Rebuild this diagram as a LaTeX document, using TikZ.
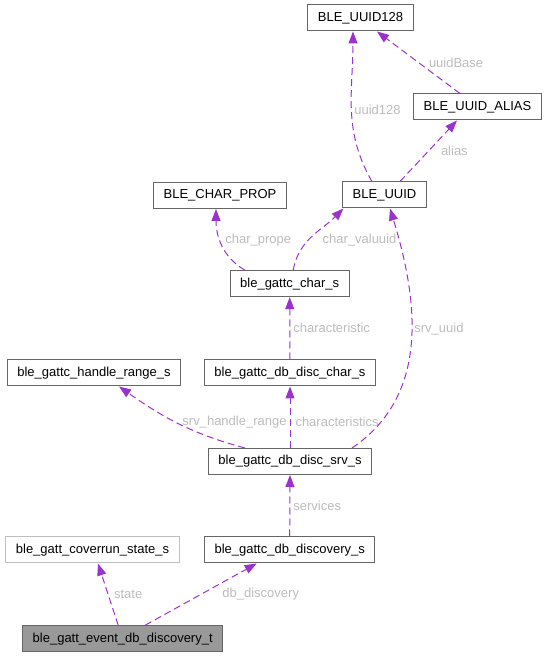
\documentclass[tikz,border=0pt]{standalone}
\usepackage{fontspec}
\setmainfont{Liberation Sans}
\usetikzlibrary{arrows.meta}
\definecolor{edgepurple}{HTML}{9A32CD}
\definecolor{boxgray}{HTML}{666666}
\definecolor{lightbox}{HTML}{BFBFBF}
\definecolor{labelgray}{HTML}{BCBCBC}
\definecolor{rootfill}{HTML}{999999}
\tikzset{
  cls/.style={draw=boxgray, line width=1pt, fill=white, inner xsep=10pt, inner ysep=0pt,
    minimum height=26pt, font=\fontsize{13}{15}\selectfont},
  lbl/.style={text=labelgray, inner sep=1pt, anchor=west, font=\fontsize{13}{15}\selectfont},
  uses/.style={draw=edgepurple, line width=1pt, dash pattern=on 7pt off 4pt,
    -{Triangle[length=12pt,width=9pt]}}
}

\begin{document}
\begin{tikzpicture}[x=1pt, y=1pt]
    \useasboundingbox (0,0) rectangle (549,657);

    \node[cls] (uuidl) at (360.5,639) {BLE\_UUID128};
    \node[cls] (alias) at (477.5,550) {BLE\_UUID\_ALIAS};
    \node[cls] (uuid) at (384.5,462) {BLE\_UUID};
    \node[cls] (prop) at (220,461.5) {BLE\_CHAR\_PROP};
    \node[cls] (chr) at (289.7,373.3) {ble\_gattc\_char\_s};
    \node[cls] (range) at (94,284) {ble\_gattc\_handle\_range\_s};
    \node[cls] (dchr) at (290,284) {ble\_gattc\_db\_disc\_char\_s};
    \node[cls] (dsrv) at (290,195.5) {ble\_gattc\_db\_disc\_srv\_s};
    \node[cls, draw=lightbox] (ovr) at (92.5,107) {ble\_gatt\_coverrun\_state\_s};
    \node[cls] (disc) at (289.7,107) {ble\_gattc\_db\_discovery\_s};
    \node[cls, fill=rootfill] (evt) at (122.7,18.3) {ble\_gatt\_event\_db\_discovery\_t};

    \path[every edge/.style={uses}]
    ([xshift=-12.5pt]uuid.north) edge[out=120, in=-90] node[lbl, pos=0.5, xshift=1.5pt] {uuid128} ([xshift=-7.5pt]uuidl.south)
    ([xshift=-17.5pt]alias.north) edge node[lbl, pos=0.5, xshift=9pt] {uuidBase} ([xshift=16.5pt]uuidl.south)
    ([xshift=15.5pt]uuid.north) edge node[lbl, pos=0.5, xshift=11pt] {alias} ([xshift=-20.5pt]alias.south)
    ([xshift=-44.7pt]chr.north) edge[out=150, in=-90] node[lbl, pos=0.5, xshift=2pt, yshift=4pt] {char\_prope} ([xshift=-4pt]prop.south)
    ([xshift=3.5pt]chr.north) edge[out=80, in=-135] node[lbl, pos=0.5, xshift=9pt, yshift=-4pt] {char\_valuuid} ([xshift=-41pt]uuid.south)
    ([xshift=62pt]dsrv.north) edge[out=34, in=-73] node[lbl, pos=0.5, xshift=2pt, yshift=13pt] {srv\_uuid} ([xshift=5.5pt]uuid.south)
    (dchr.north) edge node[lbl, pos=0.5, xshift=2pt] {characteristic} (chr.south)
    ([xshift=-45pt]dsrv.north) edge[out=165, in=-35] node[lbl, pos=0.5, xshift=2pt, yshift=2pt] {srv\_handle\_range} ([xshift=25pt]range.south)
    (dsrv.north) edge node[lbl, pos=0.5, xshift=4pt, yshift=-5pt] {characteristics} (dchr.south)
    (disc.north) edge node[lbl, pos=0.5, xshift=2pt] {services} (dsrv.south)
    ([xshift=-4.5pt]evt.north) edge node[lbl, pos=0.5, xshift=4.5pt] {state} ([xshift=5.5pt]ovr.south)
    ([xshift=22.5pt]evt.north) edge node[lbl, pos=0.5, xshift=20pt] {db\_discovery} ([xshift=-33pt]disc.south)
    ;
\end{tikzpicture}
\end{document}
